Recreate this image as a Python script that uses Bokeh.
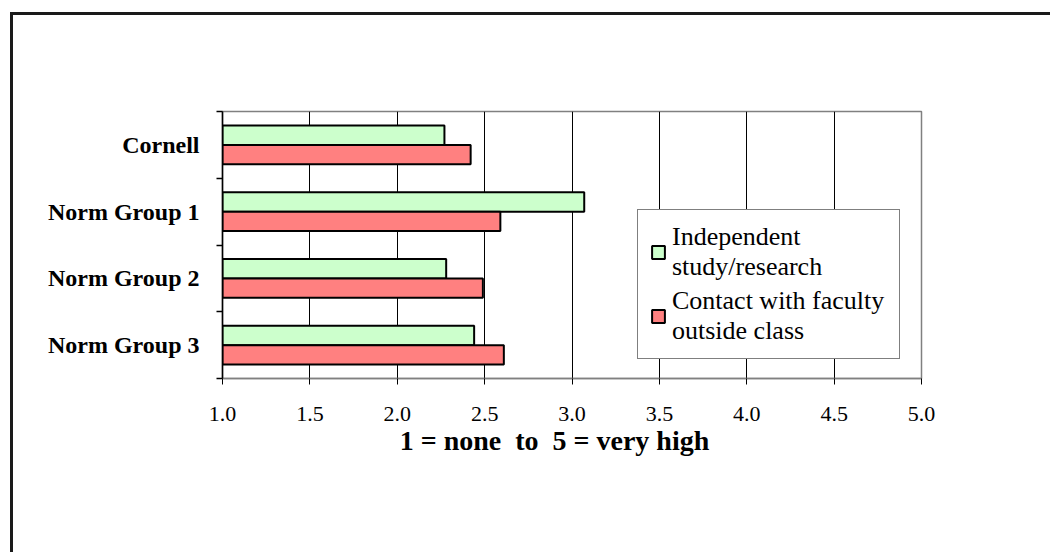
from bokeh.plotting import figure
from bokeh.models import FixedTicker, NumeralTickFormatter, Legend, LegendItem, Range1d
from bokeh.embed import file_html
from bokeh.resources import INLINE

categories = ["Cornell", "Norm Group 1", "Norm Group 2", "Norm Group 3"]
independent = [2.27, 3.07, 2.28, 2.44]
contact = [2.42, 2.59, 2.49, 2.61]
series_names = ["Independent\nstudy/research", "Contact with faculty\noutside class"]
x_ticks = [1.0, 1.5, 2.0, 2.5, 3.0, 3.5, 4.0, 4.5, 5.0]
x_title = "1 = none\u00a0\u00a0to\u00a0\u00a05 = very high" + "\u00a0" * 5

FONT = "Liberation Serif"
GREEN = "#CCFFCC"
RED = "#FF8080"

n = len(categories)
centers = [n - 0.5 - i for i in range(n)]
off = 0.145
bar_h = 0.29

p = figure(width=1040, height=540, output_backend="svg", toolbar_location=None,
           x_range=Range1d(1, 5), y_range=Range1d(0, n),
           min_border_left=209, min_border_top=96, min_border_right=132, min_border_bottom=177)
p.styles = {"border-left": "3px solid #1a1a1a", "border-top": "3px solid #1a1a1a",
            "margin-left": "10px", "margin-top": "12px", "overflow": "hidden"}

g = p.hbar(y=[c + off for c in centers], left=1, right=independent, height=bar_h,
           fill_color=GREEN, line_color="black", line_width=2)
r = p.hbar(y=[c - off for c in centers], left=1, right=contact, height=bar_h,
           fill_color=RED, line_color="black", line_width=2)

p.outline_line_color = "#808080"
p.outline_line_width = 1.5
p.background_fill_color = "white"
p.border_fill_color = "white"

p.ygrid.grid_line_color = None
p.xgrid.grid_line_color = "black"
p.xgrid.grid_line_width = 1
p.xgrid.ticker = FixedTicker(ticks=x_ticks[1:-1])

xa = p.xaxis[0]
xa.ticker = FixedTicker(ticks=x_ticks)
xa.formatter = NumeralTickFormatter(format="0.0")
xa.major_tick_in = 0
xa.major_tick_out = 6
xa.major_tick_line_color = "black"
xa.minor_tick_line_color = None
xa.axis_line_color = "#808080"
xa.axis_line_width = 1.5
xa.major_label_text_font = FONT
xa.major_label_text_font_size = "22px"
xa.major_label_text_color = "black"
xa.major_label_standoff = 22
xa.axis_label = x_title
xa.axis_label_text_font = FONT
xa.axis_label_text_font_style = "bold"
xa.axis_label_text_font_size = "28px"
xa.axis_label_text_color = "black"
xa.axis_label_standoff = 1

ya = p.yaxis[0]
ya.ticker = FixedTicker(ticks=centers, minor_ticks=[float(i) for i in range(n + 1)])
ya.major_label_overrides = {c: categories[i] for i, c in enumerate(centers)}
ya.major_tick_in = 0
ya.major_tick_out = 0
ya.minor_tick_in = 0
ya.minor_tick_out = 6
ya.minor_tick_line_color = "black"
ya.minor_tick_line_width = 1.5
ya.axis_line_color = "black"
ya.axis_line_width = 1.5
ya.major_label_text_font = FONT
ya.major_label_text_font_style = "bold"
ya.major_label_text_font_size = "24px"
ya.major_label_text_color = "black"
ya.major_label_standoff = 17

legend = Legend(items=[LegendItem(label=series_names[0], renderers=[g]),
                       LegendItem(label=series_names[1], renderers=[r])],
                location=(415, 19))
legend.label_text_font = FONT
legend.label_text_font_size = "26px"
legend.label_text_line_height = 1.2
legend.label_text_color = "black"
legend.glyph_width = 16
legend.glyph_height = 16
legend.label_standoff = 6
legend.spacing = 4
legend.padding = 12
legend.margin = 0
legend.label_width = 215
legend.border_line_color = "black"
legend.border_line_width = 1
legend.background_fill_color = "white"
legend.background_fill_alpha = 1
legend.label_height = 20
p.add_layout(legend, "center")

open("out.html", "w").write(file_html(p, INLINE))
